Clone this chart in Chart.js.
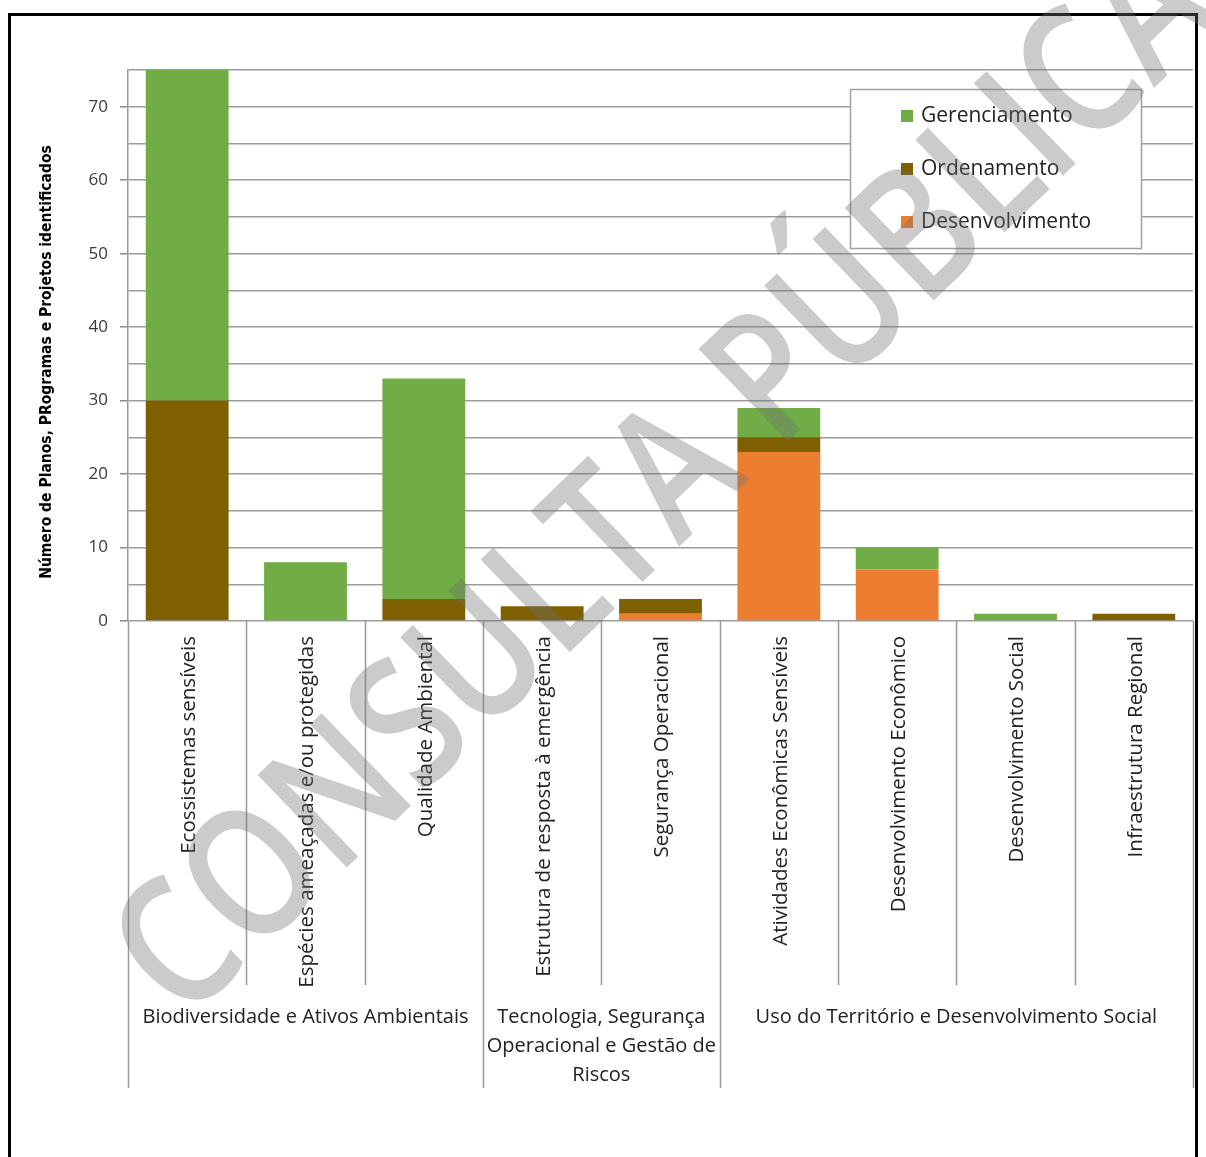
<!DOCTYPE html>
<html lang="pt">
<head>
<meta charset="utf-8">
<title>Planos, Programas e Projetos identificados</title>
<script src="https://cdn.jsdelivr.net/npm/chart.js@4.4.1/dist/chart.umd.min.js"></script>
<style>
    html, body { margin: 0; padding: 0; background: #fff; }
    #wrap { width: 1206px; height: 1157px; }
</style>
</head>
<body>
<div id="wrap"><canvas id="chart" width="1206" height="1157"></canvas></div>
<script>
// categories (bottom axis, first level)
const categories = [
    'Ecossistemas sensíveis',
    'Espécies ameaçadas e/ou protegidas',
    'Qualidade Ambiental',
    'Estrutura de resposta à emergência',
    'Segurança Operacional',
    'Atividades Econômicas Sensíveis',
    'Desenvolvimento Econômico',
    'Desenvolvimento Social',
    'Infraestrutura Regional'
];

// second level of the axis: label lines and how many categories each covers
const groupLabels = [
    ['Biodiversidade e Ativos Ambientais'],
    ['Tecnologia, Segurança', 'Operacional e Gestão de', 'Riscos'],
    ['Uso do Território e Desenvolvimento Social']
];
const groupSizes = [3, 2, 4];

// series, stacked bottom -> top
const desenvolvimento = [0, 0, 0, 0, 1, 23, 7, 0, 0];
const ordenamento     = [30, 0, 3, 2, 2, 2, 0, 0, 1];
const gerenciamento   = [45, 8, 30, 0, 0, 4, 3, 1, 0];

const yTitle = 'Número de Planos, PRogramas e Projetos identificados';
const watermark = 'CONSULTA PÚBLICA';

const COLORS = {
    gerenciamento: '#70ad47',
    ordenamento: '#7f6000',
    desenvolvimento: '#ed7d31'
};
const FONT = "'Open Sans', 'DejaVu Sans', sans-serif";

/**
 * Draws the multi-level category axis, the legend box inside the plot,
 * the vertical axis title, the page frame and the watermark.
 */
const decorPlugin = {
    id: 'decor',
    afterDraw(chart) {
        const { ctx, chartArea: area, scales: { x } } = chart;
        const step = x.getPixelForValue(1) - x.getPixelForValue(0);
        const base = area.bottom;

        ctx.save();

        // category separators
        const groupEdges = [0];
        groupSizes.forEach(n => groupEdges.push(groupEdges[groupEdges.length - 1] + n));
        ctx.strokeStyle = '#9a9a9a';
        ctx.lineWidth = 1.5;
        for (let i = 0; i <= categories.length; i++) {
            const edge = i < categories.length
                ? x.getPixelForValue(i) - step / 2
                : x.getPixelForValue(i - 1) + step / 2;
            const depth = groupEdges.includes(i) ? 467 : 364;
            ctx.beginPath();
            ctx.moveTo(Math.round(edge) + 0.5, base);
            ctx.lineTo(Math.round(edge) + 0.5, base + depth);
            ctx.stroke();
        }

        // rotated category labels
        ctx.fillStyle = '#222';
        ctx.font = `20.5px ${FONT}`;
        categories.forEach((label, i) => {
            ctx.save();
            ctx.translate(x.getPixelForValue(i) + 2, base + 15);
            ctx.rotate(-Math.PI / 2);
            ctx.textAlign = 'right';
            ctx.textBaseline = 'middle';
            ctx.fillText(label, 0, 0);
            ctx.restore();
        });

        // group labels
        ctx.font = `20px ${FONT}`;
        ctx.textAlign = 'center';
        ctx.textBaseline = 'middle';
        groupLabels.forEach((lines, g) => {
            const first = groupEdges[g];
            const last = groupEdges[g + 1] - 1;
            const cx = (x.getPixelForValue(first) + x.getPixelForValue(last)) / 2;
            lines.forEach((line, k) => ctx.fillText(line, cx, base + 396 + k * 29));
        });

        // legend box (top-right, inside the plot)
        ctx.fillStyle = '#fff';
        ctx.fillRect(850, 89, 291, 159);
        ctx.strokeStyle = '#a0a0a0';
        ctx.lineWidth = 1.5;
        ctx.strokeRect(850.5, 89.5, 291, 159);
        const legendItems = chart.data.datasets.slice().reverse();
        ctx.font = `21px ${FONT}`;
        ctx.textAlign = 'left';
        ctx.textBaseline = 'middle';
        legendItems.forEach((ds, k) => {
            const y = 116 + k * 53;
            ctx.fillStyle = ds.backgroundColor;
            ctx.fillRect(901, y - 6, 12, 12);
            ctx.fillStyle = '#222';
            ctx.fillText(ds.label, 921, y);
        });

        // vertical axis title
        ctx.save();
        ctx.translate(47, 362);
        ctx.rotate(-Math.PI / 2);
        ctx.font = "bold 15.5px 'DejaVu Sans Condensed', 'Liberation Sans Narrow', sans-serif";
        ctx.fillStyle = '#000';
        ctx.textAlign = 'center';
        ctx.textBaseline = 'middle';
        ctx.fillText(yTitle, 0, 0);
        ctx.restore();

        // page frame
        ctx.strokeStyle = '#000';
        ctx.lineWidth = 3;
        ctx.strokeRect(9.5, 14.5, 1187, 1170);

        // watermark
        ctx.save();
        ctx.translate(660, 476);
        ctx.rotate(-44 * Math.PI / 180);
        ctx.scale(0.83, 1);
        ctx.font = `600 180px ${FONT}`;
        ctx.textAlign = 'center';
        ctx.textBaseline = 'alphabetic';
        ctx.fillStyle = 'rgba(110, 110, 110, 0.36)';
        ctx.fillText(watermark, 0, 64);
        ctx.restore();

        ctx.restore();
    }
};

const chart = new Chart(document.getElementById('chart'), {
    type: 'bar',
    data: {
        labels: categories,
        datasets: [
            { label: 'Desenvolvimento', data: desenvolvimento, backgroundColor: COLORS.desenvolvimento },
            { label: 'Ordenamento', data: ordenamento, backgroundColor: COLORS.ordenamento },
            { label: 'Gerenciamento', data: gerenciamento, backgroundColor: COLORS.gerenciamento }
        ]
    },
    options: {
        responsive: false,
        animation: false,
        layout: { padding: { top: 70, right: 13, bottom: 536, left: 0 } },
        datasets: { bar: { barPercentage: 0.7, categoryPercentage: 1, borderWidth: 0 } },
        plugins: {
            legend: { display: false },
            tooltip: { enabled: false }
        },
        scales: {
            x: {
                display: false,
                stacked: true
            },
            y: {
                stacked: true,
                min: 0,
                max: 75,
                afterFit: (scale) => { scale.width = 128; },
                border: { display: true, color: '#9a9a9a', width: 1.5 },
                grid: {
                    color: '#9c9c9c',
                    lineWidth: 1.5,
                    tickLength: 8,
                    tickColor: (ctx) => (ctx.tick && ctx.tick.value % 10 === 0 ? '#8a8a8a' : 'rgba(0,0,0,0)')
                },
                ticks: {
                    stepSize: 5,
                    padding: 12,
                    color: '#3a3a3a',
                    font: { family: FONT, size: 17 },
                    callback: (v) => (v % 10 === 0 ? v : '')
                }
            }
        }
    },
    plugins: [decorPlugin]
});
</script>
</body>
</html>
